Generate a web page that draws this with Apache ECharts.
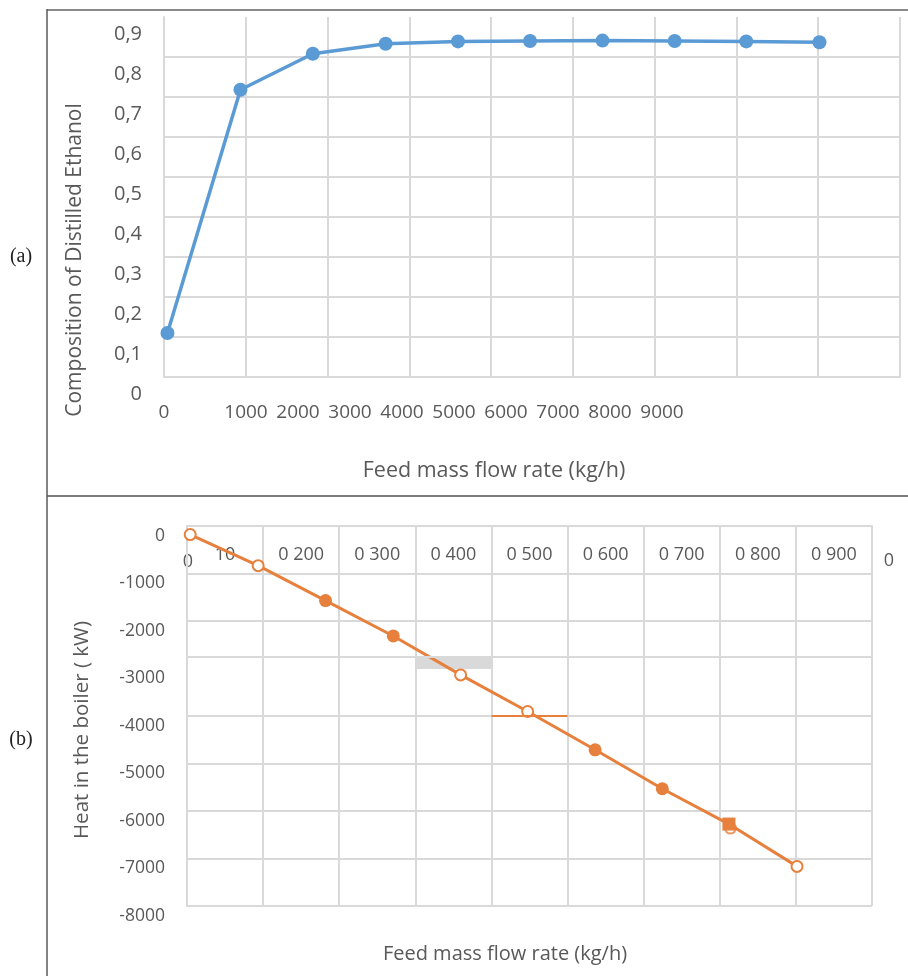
<!DOCTYPE html>
<html><head><meta charset="utf-8">
<script src="https://cdn.jsdelivr.net/npm/echarts@6/dist/echarts.min.js"></script>
<style>html,body{margin:0;padding:0;background:#fff}#c{width:908px;height:976px}</style>
</head><body><div id="c"></div>
<script>
// ---- data ----
const feedRate = [42, 935, 1820, 2710, 3595, 4476, 5362, 6245, 7120, 8015];
const ethanolComposition = [0.110, 0.718, 0.808, 0.833, 0.839, 0.840, 0.841, 0.840, 0.839, 0.837];
const boilerHeat = [-180, -835, -1570, -2315, -3135, -3905, -4712, -5532, -6275, -7166];
const boilerMarkerKinds = ['open','open','filled','filled','open','open','filled','filled','square','open'];
const boilerExtraOpen = [[7140, -6360]];
const aXLabelValues = [1000, 2000, 3000, 4000, 5000, 6000, 7000, 8000, 9000];
const bXCategoryLabels = ['10', '0 200', '0 300', '0 400', '0 500', '0 600', '0 700', '0 800', '0 900'];
const bStrayXLabels = ['0', '0'];
const bGlitchLineY = -2756;
const bGlitchBand = [[3000, -2756], [4000, -3008]];
const bOrangeSegment = [[4000, -4000], [5000, -4000]];
const panelLabels = ['(a)', '(b)'];
const aTitles = ['Composition of Distilled Ethanol', 'Feed mass flow rate (kg/h)'];
const bTitles = ['Heat in the boiler ( kW)', 'Feed mass flow rate (kg/h)'];

const TXT = '#595959', GRID = '#d9d9d9', FONT = '"Open Sans", sans-serif';
const BLUE = '#5B9BD5', ORANGE = '#E6803C';

const chart = echarts.init(document.getElementById('c'), null, {renderer: 'canvas'});
const lbl = (o) => Object.assign({color: TXT, fontFamily: FONT}, o);

const bData = feedRate.map((x, i) => {
  const k = boilerMarkerKinds[i];
  return {
    value: [x, boilerHeat[i]],
    symbol: k === 'open' ? 'emptyCircle' : (k === 'square' ? 'rect' : 'circle'),
    symbolSize: k === 'open' ? 11 : 13,
    itemStyle: k === 'open' ? {color: ORANGE, borderWidth: 2} : {color: ORANGE}
  };
});

const option = {
  animation: false,
  backgroundColor: '#fff',
  grid: [
    {left: 164, top: 17, width: 736, height: 360},
    {left: 246, top: 17, width: 416, height: 360},
    {left: 187, top: 526, width: 685, height: 380},
    {left: 187, top: 500, width: 685, height: 26}
  ],
  xAxis: [
    {gridIndex: 0, type: 'value', min: 0, max: 9000, interval: 1000,
     axisLine: {lineStyle: {color: GRID, width: 2}}, axisTick: {show: false},
     splitLine: {lineStyle: {color: GRID, width: 2}},
     axisLabel: lbl({fontSize: 19, margin: 26, formatter: v => v === 0 ? '0' : ''})},
    {gridIndex: 1, type: 'value', min: aXLabelValues[0], max: aXLabelValues[aXLabelValues.length - 1], interval: 1000,
     axisLine: {show: false}, axisTick: {show: false}, splitLine: {show: false},
     axisLabel: lbl({fontSize: 19, margin: 26, formatter: v => String(v)})},
    {gridIndex: 2, type: 'value', min: 0, max: 9000, interval: 1000,
     axisLine: {onZero: true, lineStyle: {color: GRID, width: 2}}, axisTick: {show: false},
     splitLine: {lineStyle: {color: GRID, width: 2}}, axisLabel: {show: false}},
    {gridIndex: 3, type: 'category', data: bXCategoryLabels, boundaryGap: true,
     axisLine: {show: false}, axisTick: {show: false}, splitLine: {show: false},
     axisLabel: lbl({fontSize: 18, margin: 20, interval: 0})}
  ],
  yAxis: [
    {gridIndex: 0, type: 'value', min: 0, max: 0.9, interval: 0.1,
     axisLine: {show: true, lineStyle: {color: GRID, width: 2}}, axisTick: {show: false},
     splitLine: {showMaxLine: false, lineStyle: {color: GRID, width: 2}},
     axisLabel: lbl({fontSize: 20, margin: 22, verticalAlign: 'top', lineHeight: 34,
       formatter: v => v === 0 ? '0' : v.toFixed(1).replace('.', ',')})},
    {gridIndex: 1, type: 'value', show: false, min: 0, max: 1},
    {gridIndex: 2, type: 'value', min: -8000, max: 0, interval: 1000,
     axisLine: {show: true, lineStyle: {color: GRID, width: 2}}, axisTick: {show: false},
     splitLine: {lineStyle: {width: 2, color: [GRID, GRID, GRID, GRID, GRID, 'rgba(0,0,0,0)', GRID, GRID, GRID]}},
     axisLabel: lbl({fontSize: 17.5, margin: 22, verticalAlign: 'top', lineHeight: 20, formatter: v => String(v)})},
    {gridIndex: 3, type: 'value', show: false, min: 0, max: 1}
  ],
  series: [
    {type: 'line', xAxisIndex: 0, yAxisIndex: 0, z: 3,
     data: feedRate.map((x, i) => [x, ethanolComposition[i]]),
     symbol: 'circle', symbolSize: 14, lineStyle: {color: BLUE, width: 3.5},
     itemStyle: {color: BLUE}},
    {type: 'line', xAxisIndex: 2, yAxisIndex: 2, z: 1, data: [], silent: true,
     markLine: {silent: true, symbol: 'none', label: {show: false},
       data: [
         [{coord: [0, bGlitchLineY], lineStyle: {color: GRID, width: 2, type: 'solid'}}, {coord: [9000, bGlitchLineY]}],
         [{coord: bOrangeSegment[0], lineStyle: {color: ORANGE, width: 2, type: 'solid'}}, {coord: bOrangeSegment[1]}]
       ]}},
    {type: 'line', xAxisIndex: 2, yAxisIndex: 2, z: 3, data: bData,
     lineStyle: {color: ORANGE, width: 3}, itemStyle: {color: ORANGE}},
    {type: 'scatter', xAxisIndex: 2, yAxisIndex: 2, z: 2, data: boilerExtraOpen,
     symbol: 'emptyCircle', symbolSize: 11, itemStyle: {color: ORANGE, borderWidth: 2}},
    {type: 'line', xAxisIndex: 2, yAxisIndex: 2, z: 5, data: [], silent: true,
     markArea: {silent: true, itemStyle: {color: GRID}, label: {show: false},
       data: [[{coord: bGlitchBand[0]}, {coord: bGlitchBand[1]}]]}}
  ],
  graphic: [
    {type: 'line', shape: {x1: 47, y1: 10, x2: 908, y2: 10}, style: {stroke: '#8a8a8a', lineWidth: 2}},
    {type: 'line', shape: {x1: 47, y1: 496, x2: 908, y2: 496}, style: {stroke: '#7a7a7a', lineWidth: 2}},
    {type: 'line', shape: {x1: 47, y1: 9, x2: 47, y2: 976}, style: {stroke: '#5a5a5a', lineWidth: 1.5}},
    {type: 'text', x: 21, y: 257, style: {text: panelLabels[0], font: '20px "Liberation Serif", serif', fill: '#222', align: 'center', verticalAlign: 'middle'}},
    {type: 'text', x: 21, y: 740, style: {text: panelLabels[1], font: '20px "Liberation Serif", serif', fill: '#222', align: 'center', verticalAlign: 'middle'}},
    {type: 'text', x: 75, y: 260, rotation: Math.PI / 2, style: {text: aTitles[0], font: '21px ' + FONT, fill: TXT, align: 'center', verticalAlign: 'middle'}},
    {type: 'text', x: 494, y: 471, style: {text: aTitles[1], font: '21.5px ' + FONT, fill: TXT, align: 'center', verticalAlign: 'middle'}},
    {type: 'text', x: 82, y: 730, rotation: Math.PI / 2, style: {text: bTitles[0], font: '20.5px ' + FONT, fill: TXT, align: 'center', verticalAlign: 'middle'}},
    {type: 'text', x: 505, y: 954, style: {text: bTitles[1], font: '20px ' + FONT, fill: TXT, align: 'center', verticalAlign: 'middle'}},
    {type: 'text', x: 188, y: 562, style: {text: bStrayXLabels[0], font: '18px ' + FONT, fill: TXT, align: 'center', verticalAlign: 'middle'}},
    {type: 'text', x: 889, y: 561, style: {text: bStrayXLabels[1], font: '18px ' + FONT, fill: TXT, align: 'center', verticalAlign: 'middle'}}
  ]
};
chart.setOption(option);
</script></body></html>
